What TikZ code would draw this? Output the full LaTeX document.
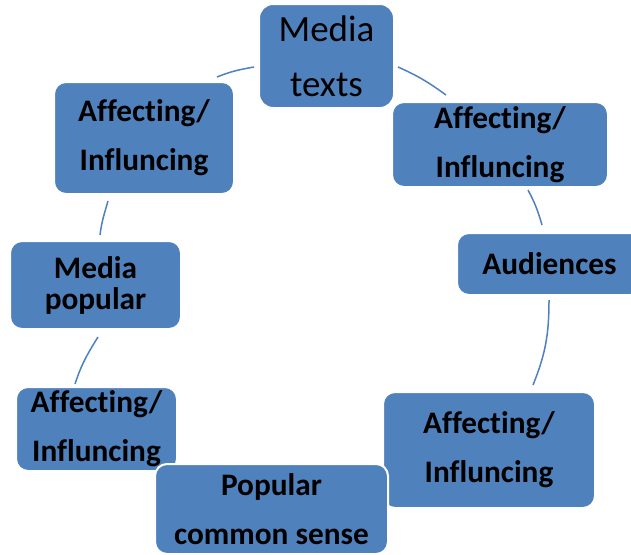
\documentclass[tikz,border=0pt]{standalone}
\usepackage{fontspec}
\setmainfont[Ligatures={NoCommon}]{Carlito}
\definecolor{boxblue}{RGB}{79,129,189}
\begin{document}
\begin{tikzpicture}[x=1pt,y=1pt,
  box/.style={rectangle, rounded corners=12pt, fill=boxblue, draw=white, line width=2pt,
    inner sep=0pt, align=center, text=black, font=\bfseries\fontsize{31.3}{49}\selectfont},
  conn/.style={draw=boxblue, line width=1.5pt}]
\useasboundingbox (0,0) rectangle (631,-554);
\clip (0,0) rectangle (631,-554);
\node[box, minimum width=135pt, minimum height=104pt, rounded corners=14pt,
  font=\fontsize{37}{55}\selectfont] (mt) at (326.5,-56) {Media\\texts};
\node[box, minimum width=216pt, minimum height=85pt] (a1) at (500,-144.5) {Affecting/\\Influncing};
\node[box, minimum width=185pt, minimum height=62pt] (aud) at (549.5,-264) {Audiences};
\node[box, minimum width=212pt, minimum height=116pt] (a2) at (489,-450) {Affecting/\\Influncing};
\node[box, minimum width=161pt, minimum height=84pt] (a3) at (96.5,-429) {Affecting/\\Influncing};
\node[box, minimum width=171pt, minimum height=88pt,
  font=\bfseries\fontsize{31.3}{31}\selectfont] (mp) at (95.5,-285) {Media\\popular};
\node[box, minimum width=180pt, minimum height=112pt] (a4) at (144,-138) {Affecting/\\Influncing};
\node[box, minimum width=233pt, minimum height=90pt] (pcs) at (271.5,-509) {Popular\\common sense};
\draw[conn] ([shift={(-18,4)}]a4.north east) to[out=22,in=190] ([shift={(-4,-11)}]mt.west);
\draw[conn] ([shift={(3,-11)}]mt.east) to[out=-24,in=144] ([shift={(55,6)}]a1.north west);
\draw[conn] ([shift={(28,-2)}]a1.south) to[out=-62,in=106] ([shift={(86,7)}]aud.north west);
\draw[conn] ([shift={(93,-4)}]aud.south west) to[out=-90,in=68] ([shift={(44,6)}]a2.north);
\draw[conn] ([shift={(-36,-6)}]a4.south) to[out=-106,in=83] ([shift={(4.5,5)}]mp.north);
\draw[conn] ([shift={(2.5,-7)}]mp.south) to[out=-122,in=72] ([shift={(-21.5,2)}]a3.north);
\end{tikzpicture}
\end{document}
